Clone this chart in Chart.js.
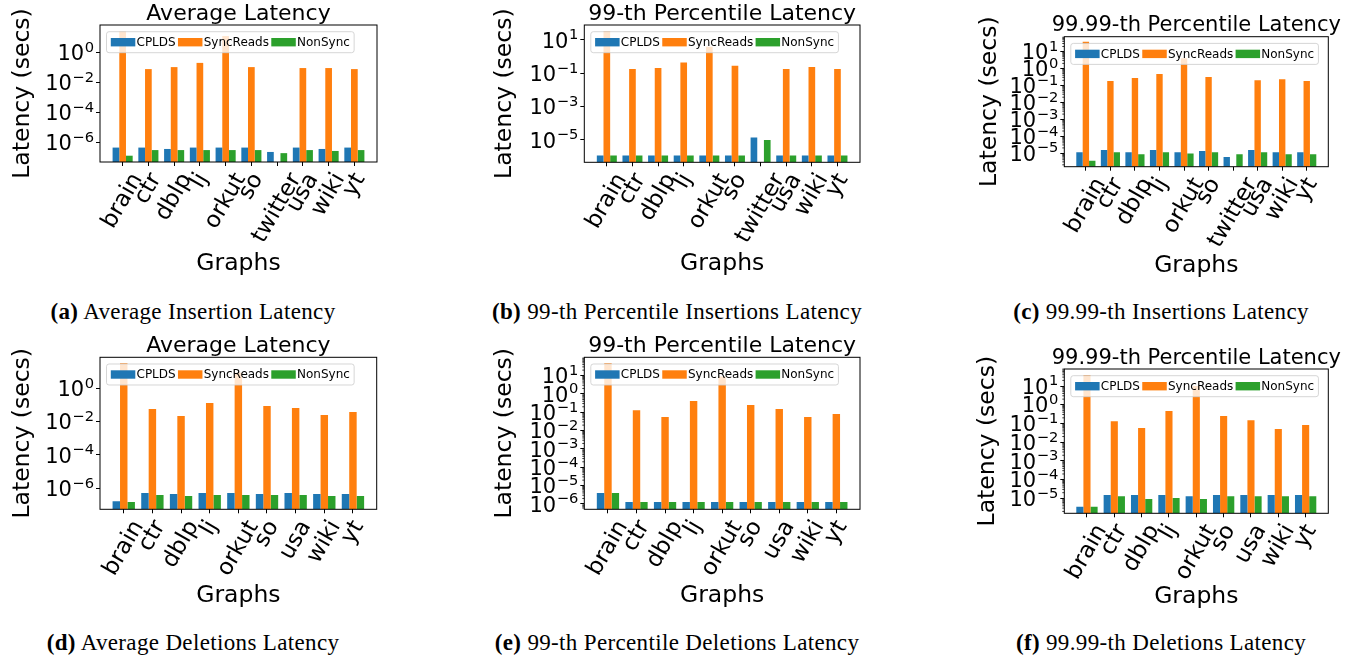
<!DOCTYPE html>
<html>
<head>
<meta charset="utf-8">
<script src="https://cdn.jsdelivr.net/npm/chart.js@4.4.0/dist/chart.umd.min.js"></script>
<style>
  body { margin: 0; background: #fff; width: 1359px; height: 659px; position: relative; overflow: hidden; }
  canvas.panel { position: absolute; }
  .caption { position: absolute; width: 460px; text-align: center; font: 23px 'Liberation Serif', serif; letter-spacing: 0.35px; line-height: 24px; color: #000; white-space: nowrap; }
</style>
</head>
<body>
<canvas id="chart-a" class="panel" width="450" height="290" style="left:0;top:0"></canvas>
<canvas id="chart-b" class="panel" width="450" height="290" style="left:450px;top:0"></canvas>
<canvas id="chart-c" class="panel" width="459" height="290" style="left:900px;top:0"></canvas>
<canvas id="chart-d" class="panel" width="450" height="290" style="left:0;top:330px"></canvas>
<canvas id="chart-e" class="panel" width="450" height="290" style="left:450px;top:330px"></canvas>
<canvas id="chart-f" class="panel" width="459" height="290" style="left:900px;top:330px"></canvas>

<div class="caption" style="left:-37px;top:300px"><b>(a)</b> Average Insertion Latency</div>
<div class="caption" style="left:447px;top:300px"><b>(b)</b> 99-th Percentile Insertions Latency</div>
<div class="caption" style="left:931px;top:300px"><b>(c)</b> 99.99-th Insertions Latency</div>
<div class="caption" style="left:-37px;top:631px"><b>(d)</b> Average Deletions Latency</div>
<div class="caption" style="left:447px;top:631px"><b>(e)</b> 99-th Percentile Deletions Latency</div>
<div class="caption" style="left:931px;top:631px"><b>(f)</b> 99.99-th Deletions Latency</div>

<script>
const graphsIns = ['brain', 'ctr', 'dblp', 'lj', 'orkut', 'so', 'twitter', 'usa', 'wiki', 'yt'];
const graphsDel = ['brain', 'ctr', 'dblp', 'lj', 'orkut', 'so', 'usa', 'wiki', 'yt'];
const seriesNames = ['CPLDS', 'SyncReads', 'NonSync'];
const seriesColors = ['#1f77b4', '#ff7f0e', '#2ca02c'];

// latency in secs
const avgInsCPLDS   = [4.7e-7, 4.7e-7, 3.8e-7, 4.7e-7, 4.7e-7, 4.7e-7, 2.4e-7, 4.7e-7, 3.8e-7, 4.7e-7];
const avgInsSync    = [25, 0.081, 0.11, 0.21, 13, 0.11, null, 0.095, 0.095, 0.081];
const avgInsNonSync = [1.35e-7, 3.2e-7, 3.2e-7, 3.2e-7, 3.2e-7, 3.2e-7, 2.0e-7, 3.2e-7, 2.8e-7, 3.2e-7];

const p99InsCPLDS   = [1.15e-6, 1.15e-6, 1.15e-6, 1.15e-6, 1.15e-6, 1.15e-6, 1.4e-5, 1.15e-6, 1.15e-6, 1.15e-6];
const p99InsSync    = [32, 0.18, 0.21, 0.44, 4.0, 0.28, null, 0.18, 0.24, 0.18];
const p99InsNonSync = [1.15e-6, 1.15e-6, 1.15e-6, 1.15e-6, 1.15e-6, 1.15e-6, 1.0e-5, 1.15e-6, 1.15e-6, 1.15e-6];

const p9999InsCPLDS   = [1.1e-5, 1.5e-5, 1.1e-5, 1.5e-5, 1.1e-5, 1.3e-5, 5.8e-6, 1.5e-5, 1.1e-5, 1.1e-5];
const p9999InsSync    = [38, 0.18, 0.27, 0.47, 4.0, 0.31, null, 0.2, 0.23, 0.18];
const p9999InsNonSync = [3.5e-6, 1.1e-5, 8.5e-6, 1.1e-5, 9.5e-6, 1.1e-5, 8.5e-6, 1.1e-5, 8.5e-6, 8.5e-6];

const avgDelCPLDS   = [1.7e-7, 5.2e-7, 4.6e-7, 5.2e-7, 5.2e-7, 4.6e-7, 5.2e-7, 4.6e-7, 4.6e-7];
const avgDelSync    = [32, 0.058, 0.022, 0.13, 8.7, 0.087, 0.066, 0.025, 0.038];
const avgDelNonSync = [1.5e-7, 4.0e-7, 3.5e-7, 4.0e-7, 4.0e-7, 4.0e-7, 4.0e-7, 3.5e-7, 3.5e-7];

const p99DelCPLDS   = [4.0e-6, 1.3e-6, 1.3e-6, 1.3e-6, 1.3e-6, 1.3e-6, 1.3e-6, 1.3e-6, 1.3e-6];
const p99DelSync    = [48, 0.13, 0.056, 0.42, 8.9, 0.25, 0.15, 0.056, 0.081];
const p99DelNonSync = [4.0e-6, 1.3e-6, 1.3e-6, 1.3e-6, 1.3e-6, 1.3e-6, 1.3e-6, 1.3e-6, 1.3e-6];

const p9999DelCPLDS   = [3.5e-6, 1.5e-5, 1.5e-5, 1.5e-5, 1.3e-5, 1.5e-5, 1.5e-5, 1.5e-5, 1.5e-5];
const p9999DelSync    = [39, 0.13, 0.058, 0.46, 10, 0.25, 0.15, 0.05, 0.083];
const p9999DelNonSync = [3.5e-6, 1.3e-5, 9.1e-6, 1.05e-5, 9.1e-6, 1.3e-5, 1.3e-5, 1.3e-5, 1.3e-5];

// y tick values per panel
const ticksAvg = [1, 1e-2, 1e-4, 1e-6];
const ticksP99Ins = [10, 1e-1, 1e-3, 1e-5];
const ticksP9999 = [10, 1, 1e-1, 1e-2, 1e-3, 1e-4, 1e-5];
const ticksP99Del = [10, 1, 1e-1, 1e-2, 1e-3, 1e-4, 1e-5, 1e-6];

const FONT = "'DejaVu Sans', sans-serif";
const BAR_W = 0.26;

const expText = v => String(Math.round(Math.log10(v))).replace('-', '\u2212');

const panelDeco = {
  id: 'panelDeco',
  afterDatasetsDraw(chart, args, opts) {
    const { ctx, chartArea: a, scales: { x, y } } = chart;
    ctx.save();
    ctx.strokeStyle = '#000';
    ctx.fillStyle = '#000';

    // minor log ticks on the left spine
    if (opts.minor) {
      ctx.lineWidth = 0.8;
      const k0 = Math.floor(Math.log10(y.min)), k1 = Math.ceil(Math.log10(y.max));
      for (let k = k0; k <= k1; k++) {
        for (let m = 2; m < 10; m++) {
          const v = m * Math.pow(10, k);
          if (v < y.min || v > y.max) continue;
          const py = y.getPixelForValue(v);
          ctx.beginPath();
          ctx.moveTo(a.left - 2, py);
          ctx.lineTo(a.left, py);
          ctx.stroke();
        }
      }
    }

    // axes frame
    ctx.lineWidth = 1;
    ctx.strokeRect(a.left, a.top, a.right - a.left, a.bottom - a.top);

    // y tick labels as 10 with a raised exponent
    ctx.textAlign = 'right';
    ctx.textBaseline = 'alphabetic';
    y.ticks.forEach(t => {
      const py = y.getPixelForValue(t.value);
      const xr = a.left - 6;
      const e = expText(t.value);
      ctx.font = `14.7px ${FONT}`;
      const ew = ctx.measureText(e).width;
      ctx.fillText(e, xr, py - 0.6);
      ctx.font = `21px ${FONT}`;
      ctx.fillText('10', xr - ew - 0.5, py + 7.7);
    });

    // title
    ctx.font = `${opts.titleSize}px ${FONT}`;
    ctx.textAlign = 'center';
    ctx.fillText(opts.title, (a.left + a.right) / 2, a.top - 5.3);

    // rotated category labels, centred under the tick like matplotlib
    const size = 23;
    const th = Math.PI / 3;
    ctx.font = `${size}px ${FONT}`;
    opts.labels.forEach((lab, i) => {
      const w = ctx.measureText(lab).width;
      const h = size * 1.1;
      const bh = w * Math.sin(th) + h * Math.cos(th);
      ctx.save();
      ctx.translate(x.getPixelForValue(i), a.bottom + 7 + bh / 2);
      ctx.rotate(-th);
      ctx.textAlign = 'center';
      ctx.textBaseline = 'middle';
      ctx.fillText(lab, 0, 0);
      ctx.restore();
    });

    // legend in the upper left corner
    ctx.font = `12px ${FONT}`;
    const items = chart.data.datasets.map(ds => ({ name: ds.label, color: ds.backgroundColor, w: ctx.measureText(ds.label).width }));
    const patchW = 24.5, patchH = 8.4, gapText = 1.2, gapCol = 2.3, pad = 4.3;
    const inner = items.reduce((s, it) => s + patchW + gapText + it.w, 0) + gapCol * (items.length - 1);
    const lx = a.left + 6.5, ly = a.top + 6.7, lw = inner + 2 * pad, lh = 21;
    ctx.beginPath();
    ctx.roundRect(lx, ly, lw, lh, 2.5);
    ctx.fillStyle = 'rgba(255,255,255,0.8)';
    ctx.fill();
    ctx.strokeStyle = 'rgba(204,204,204,0.8)';
    ctx.stroke();
    const cy = ly + lh / 2;
    let cx = lx + pad;
    ctx.textAlign = 'left';
    ctx.textBaseline = 'middle';
    items.forEach(it => {
      ctx.fillStyle = it.color;
      ctx.fillRect(cx, cy - patchH / 2, patchW, patchH);
      cx += patchW + gapText;
      ctx.fillStyle = '#000';
      ctx.fillText(it.name, cx, cy + 0.5);
      cx += it.w + gapCol;
    });
    ctx.restore();
  }
};

const panels = [
  { id: 'chart-a', labels: graphsIns, series: [avgInsCPLDS, avgInsSync, avgInsNonSync], ticks: ticksAvg,
    title: 'Average Latency', titleSize: 22, yExp: [-7.29, 1.85], minor: false,
    pad: { left: 9.2, top: 25, right: 73, bottom: 11.6 }, yW: 90.8, xH: 116.4 },
  { id: 'chart-b', labels: graphsIns, series: [p99InsCPLDS, p99InsSync, p99InsNonSync], ticks: ticksP99Ins,
    title: '99-th Percentile Latency', titleSize: 22, yExp: [-6.34, 1.9], minor: false,
    pad: { left: 40.9, top: 25, right: 40, bottom: 12.1 }, yW: 93.4, xH: 115.6 },
  { id: 'chart-c', labels: graphsIns, series: [p9999InsCPLDS, p9999InsSync, p9999InsNonSync], ticks: ticksP9999,
    title: '99.99-th Percentile Latency', titleSize: 21, yExp: [-5.81, 1.88], minor: true,
    pad: { left: 75.9, top: 36.7, right: 30.7, bottom: 10.1 }, yW: 88.4, xH: 113.2 },
  { id: 'chart-d', labels: graphsDel, series: [avgDelCPLDS, avgDelSync, avgDelNonSync], ticks: ticksAvg,
    title: 'Average Latency', titleSize: 22, yExp: [-7.26, 1.86], minor: false,
    pad: { left: 9.2, top: 27.3, right: 73.3, bottom: 10.4 }, yW: 90.8, xH: 100.3 },
  { id: 'chart-e', labels: graphsDel, series: [p99DelCPLDS, p99DelSync, p99DelNonSync], ticks: ticksP99Del,
    title: '99-th Percentile Latency', titleSize: 22, yExp: [-6.29, 2.0], minor: true,
    pad: { left: 40.9, top: 27.3, right: 40, bottom: 10.4 }, yW: 93.4, xH: 100.3 },
  { id: 'chart-f', labels: graphsDel, series: [p9999DelCPLDS, p9999DelSync, p9999DelNonSync], ticks: ticksP9999,
    title: '99.99-th Percentile Latency', titleSize: 21, yExp: [-5.8, 1.91], minor: true,
    pad: { left: 74.2, top: 39, right: 30.7, bottom: 9.1 }, yW: 90.1, xH: 97.6 }
];

const makePanel = p => {
  const n = p.labels.length;
  const margin = 1.5 * BAR_W + 0.05 * (n - 1 + 3 * BAR_W);
  return new Chart(document.getElementById(p.id), {
    type: 'bar',
    data: {
      datasets: p.series.map((vals, i) => ({
        label: seriesNames[i],
        data: vals.map((v, j) => ({ x: j, y: v })),
        backgroundColor: seriesColors[i],
        borderWidth: 0,
        categoryPercentage: 3 * BAR_W,
        barPercentage: 1
      }))
    },
    options: {
      responsive: false,
      animation: false,
      layout: { padding: p.pad },
      plugins: {
        legend: { display: false },
        tooltip: { enabled: false },
        panelDeco: { title: p.title, titleSize: p.titleSize, labels: p.labels, minor: p.minor }
      },
      scales: {
        x: {
          type: 'linear',
          offset: false,
          min: -margin,
          max: n - 1 + margin,
          afterBuildTicks: axis => { axis.ticks = p.labels.map((_, i) => ({ value: i })); },
          ticks: { display: false },
          grid: { drawOnChartArea: false, offset: false, tickLength: 4, tickColor: '#000' },
          border: { display: false },
          title: { display: true, text: 'Graphs', color: '#000', padding: 0, font: { family: FONT, size: 23.5 } },
          afterFit: s => { s.height = p.xH; }
        },
        y: {
          type: 'logarithmic',
          min: Math.pow(10, p.yExp[0]),
          max: Math.pow(10, p.yExp[1]),
          afterBuildTicks: axis => { axis.ticks = p.ticks.map(v => ({ value: v })); },
          ticks: { display: false, autoSkip: false },
          grid: { drawOnChartArea: false, tickLength: 4, tickColor: '#000' },
          border: { display: false },
          title: { display: true, text: 'Latency (secs)', color: '#000', padding: 0, font: { family: FONT, size: 23.5 } },
          afterFit: s => { s.width = p.yW; }
        }
      }
    },
    plugins: [panelDeco]
  });
};

window.onload = () => panels.forEach(makePanel);
</script>
</body>
</html>
